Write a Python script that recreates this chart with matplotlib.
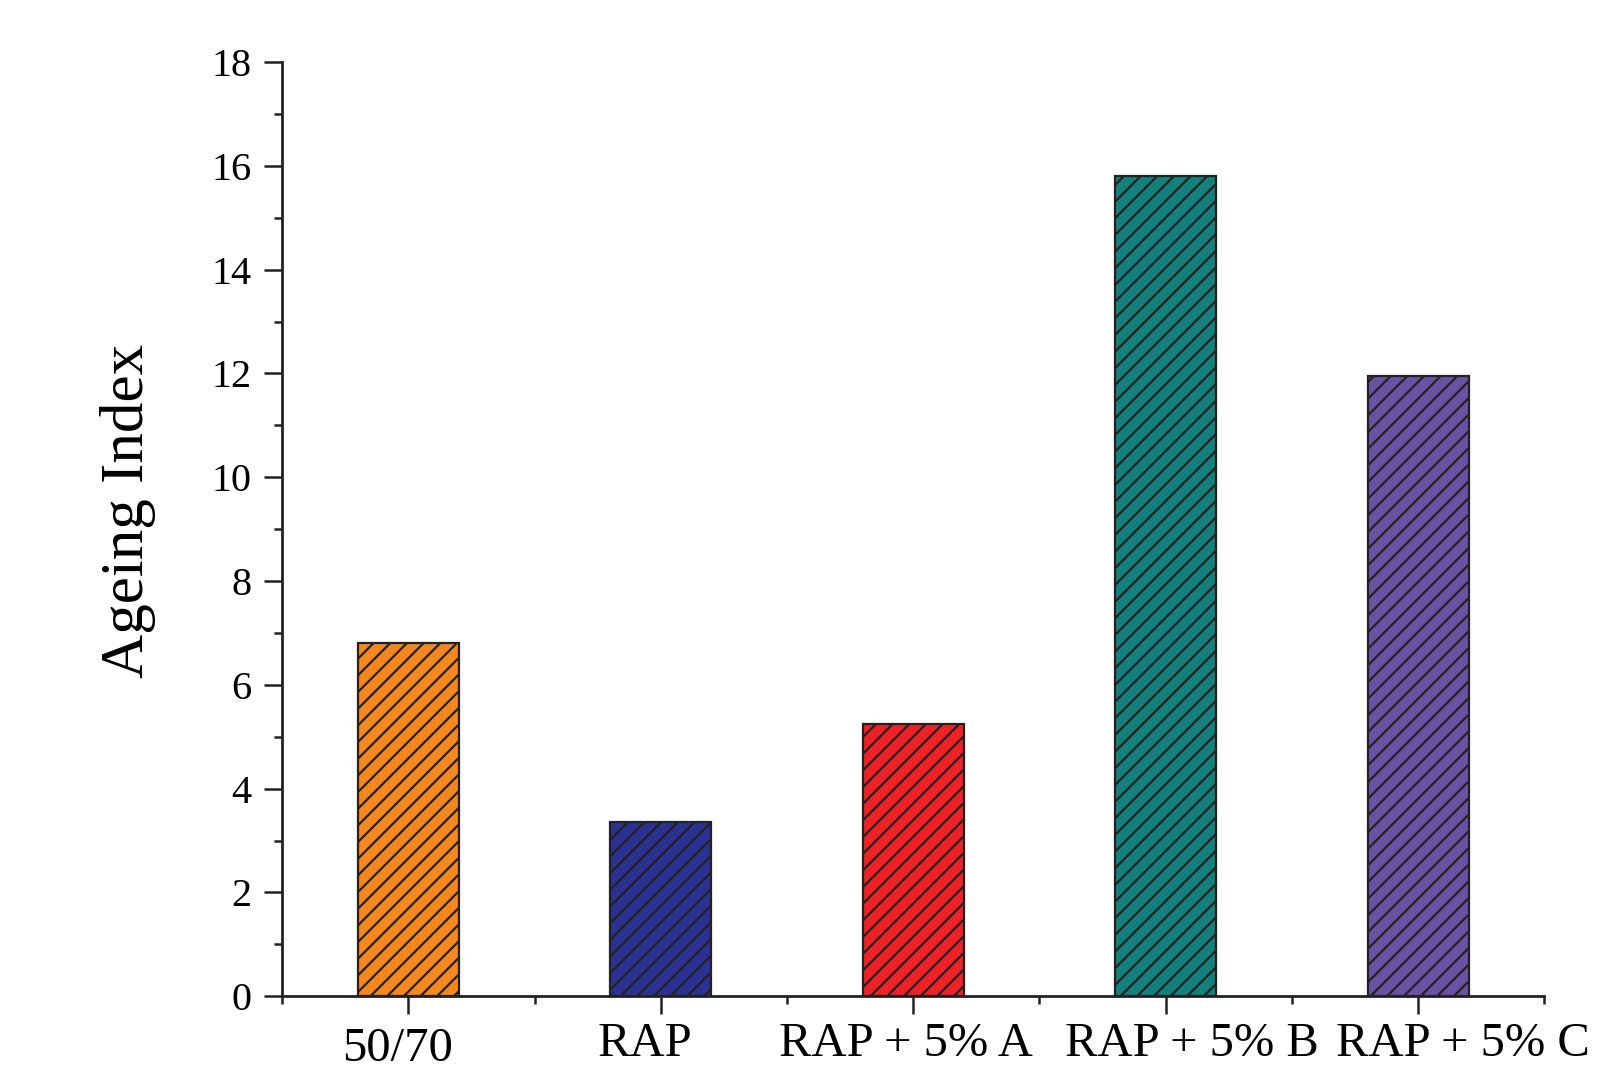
import numpy as np
import matplotlib.pyplot as plt
from matplotlib.ticker import MultipleLocator, FixedLocator
from matplotlib.transforms import ScaledTranslation

# Ageing index per binder
categories = ['50/70', 'RAP', 'RAP + 5% A', 'RAP + 5% B', 'RAP + 5% C']
ageing_index = [6.8, 3.35, 5.25, 15.8, 11.95]
bar_colors = ['#F5871F', '#2B3190', '#EE2226', '#13807B', '#6A52A3']

# the original labels are not centred under their ticks (pixel shifts)
label_shift_px = [(-11, 0), (-16, 5), (-7, 5), (26, 5), (45, 5)]

plt.rcParams['font.family'] = ['Liberation Serif', 'DejaVu Serif']
plt.rcParams['hatch.linewidth'] = 0.8
plt.rcParams['hatch.color'] = '#222222'

fig = plt.figure(figsize=(8.06, 5.345), dpi=200)
ax = fig.add_axes([0.175, 0.068, 0.783, 0.874])

x = np.arange(len(categories))
ax.bar(x, ageing_index, width=0.4, color=bar_colors, edgecolor='#222222',
       linewidth=0.8, hatch='////', zorder=2)

ax.set_xlim(-0.5, len(categories) - 0.5)
ax.set_ylim(0, 18)
ax.set_xticks(x)
ax.set_xticklabels(categories, fontsize=17.5)
ax.xaxis.set_minor_locator(FixedLocator(np.arange(-0.5, len(categories), 1.0)))
ax.yaxis.set_major_locator(MultipleLocator(2))
ax.yaxis.set_minor_locator(MultipleLocator(1))
ax.tick_params(axis='y', labelsize=14.5)

ax.tick_params(which='major', direction='out', length=6.5, width=0.9,
               color='#222222', pad=4.5)
ax.tick_params(which='minor', direction='out', length=3, width=0.9,
               color='#222222')

for lab, (dx, dy) in zip(ax.get_xticklabels(), label_shift_px):
    lab.set_transform(lab.get_transform() +
                      ScaledTranslation(dx / 200, dy / 200, fig.dpi_scale_trans))

for s in ['top', 'right']:
    ax.spines[s].set_visible(False)
for s in ['left', 'bottom']:
    ax.spines[s].set_linewidth(1.0)
    ax.spines[s].set_color('#222222')

ax.set_ylabel('Ageing Index', fontsize=22)
ax.yaxis.set_label_coords(-0.10, 0.52)

fig.savefig('out.png', dpi=200)
